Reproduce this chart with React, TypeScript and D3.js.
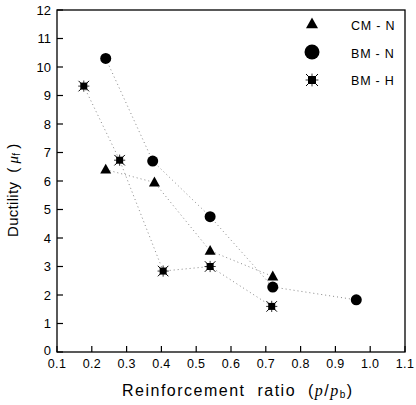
import React from "react";
import * as d3 from "d3";

const cmN_x = [0.24, 0.38, 0.54, 0.72];
const cmN_y = [6.4, 5.95, 3.55, 2.65];
const bmN_x = [0.24, 0.375, 0.54, 0.72, 0.96];
const bmN_y = [10.3, 6.7, 4.75, 2.28, 1.83];
const bmH_x = [0.177, 0.28, 0.405, 0.54, 0.717];
const bmH_y = [9.33, 6.73, 2.84, 3.0, 1.6];
const xTicks = [0.1, 0.2, 0.3, 0.4, 0.5, 0.6, 0.7, 0.8, 0.9, 1.0, 1.1];
const yTicks = [0, 1, 2, 3, 4, 5, 6, 7, 8, 9, 10, 11, 12];
const legendLabels = ["CM - N", "BM - N", "BM - H"];

const W = 416, H = 405;
const L = 57, R = 405, T = 10, B = 352;
const font = "Arial, 'Liberation Sans', sans-serif";
const serif = "'Times New Roman', 'Liberation Serif', serif";

function Star({ cx, cy, s }: { cx: number; cy: number; s: number }) {
  const d = s * 0.75;
  const o = s * 0.8;
  return (
    <g>
      <rect x={cx - s / 2} y={cy - s / 2} width={s} height={s} fill="#000" />
      <line x1={cx - d} y1={cy - d} x2={cx + d} y2={cy + d} stroke="#000" strokeWidth={1} />
      <line x1={cx - d} y1={cy + d} x2={cx + d} y2={cy - d} stroke="#000" strokeWidth={1} />
      <line x1={cx} y1={cy - o} x2={cx} y2={cy + o} stroke="#000" strokeWidth={0.8} />
      <line x1={cx - o} y1={cy} x2={cx + o} y2={cy} stroke="#000" strokeWidth={0.8} />
    </g>
  );
}

function Tri({ cx, cy, s }: { cx: number; cy: number; s: number }) {
  const h = s * 0.9;
  return (
    <path
      d={`M${cx},${cy - h * 0.6} L${cx + s / 2},${cy + h * 0.4} L${cx - s / 2},${cy + h * 0.4} Z`}
      fill="#000"
    />
  );
}

export default function App() {
  const x = d3.scaleLinear().domain([0.1, 1.1]).range([L, R]);
  const y = d3.scaleLinear().domain([0, 12]).range([B, T]);
  const line = d3.line<[number, number]>().x((d) => x(d[0])).y((d) => y(d[1]));
  const zip = (a: number[], b: number[]) => a.map((v, i) => [v, b[i]] as [number, number]);
  const cm = zip(cmN_x, cmN_y);
  const bn = zip(bmN_x, bmN_y);
  const bh = zip(bmH_x, bmH_y);
  const lineStyle = { fill: "none", stroke: "#888", strokeWidth: 1, strokeDasharray: "1,3" };

  return (
    <svg width={W} height={H} style={{ position: "absolute", left: 0, top: 0, background: "#fff" }}>
      <rect x={0} y={0} width={W} height={H} fill="#fff" />
      <path d={line(cm) || ""} {...lineStyle} />
      <path d={line(bn) || ""} {...lineStyle} />
      <path d={line(bh) || ""} {...lineStyle} />
      <rect x={L} y={T} width={R - L} height={B - T} fill="none" stroke="#000" strokeWidth={1.3} />
      {xTicks.map((t) => (
        <g key={"x" + t}>
          <line x1={x(t)} x2={x(t)} y1={B} y2={B - 6} stroke="#000" strokeWidth={1.2} />
          <text x={x(t)} y={368} textAnchor="middle" fontFamily={font} fontSize={12.5} fill="#000" letterSpacing={0.3}>
            {t.toFixed(1)}
          </text>
        </g>
      ))}
      {yTicks.map((t) => (
        <g key={"y" + t}>
          <line x1={L} x2={L + 6} y1={y(t)} y2={y(t)} stroke="#000" strokeWidth={1.2} />
          <text x={51} y={y(t) + (t === 0 ? 3 : 4.5)} textAnchor="end" fontFamily={font} fontSize={13} fill="#000">
            {t}
          </text>
        </g>
      ))}
      {cm.map((d, i) => (
        <Tri key={"t" + i} cx={x(d[0])} cy={y(d[1])} s={11} />
      ))}
      {bn.map((d, i) => (
        <circle key={"c" + i} cx={x(d[0])} cy={y(d[1])} r={5.5} fill="#000" />
      ))}
      {bh.map((d, i) => (
        <Star key={"s" + i} cx={x(d[0])} cy={y(d[1])} s={7} />
      ))}
      <Tri cx={312} cy={24} s={12} />
      <circle cx={312} cy={52} r={7.5} fill="#000" />
      <Star cx={312} cy={80} s={8} />
      {legendLabels.map((lab, i) => (
        <text key={lab} x={351} y={30 + i * 27.5} fontFamily={font} fontSize={12.5} fill="#000" letterSpacing={0.8}>
          {lab}
        </text>
      ))}
      <text x={122} y={396} fontFamily={font} fontSize={16} fill="#000" letterSpacing={1.5}>
        {"Reinforcement\u00a0 ratio\u00a0 ("}
        <tspan fontFamily={serif} fontStyle="italic">p</tspan>
        <tspan>/</tspan>
        <tspan fontFamily={serif} fontStyle="italic">p</tspan>
        <tspan fontSize={10} dy={2}>b</tspan>
        <tspan dy={-2}>)</tspan>
      </text>
      <text
        transform="translate(18,237) rotate(-90)"
        textAnchor="start"
        fontFamily={font}
        fontSize={15}
        fill="#000"
        letterSpacing={0.3}
      >
        {"Ductility\u00a0 ("}
        <tspan fontFamily={serif} fontStyle="italic" dx={4}>μ</tspan>
        <tspan fontSize={10} dy={2}>f</tspan>
        <tspan dy={-2} dx={4}>)</tspan>
      </text>
    </svg>
  );
}
